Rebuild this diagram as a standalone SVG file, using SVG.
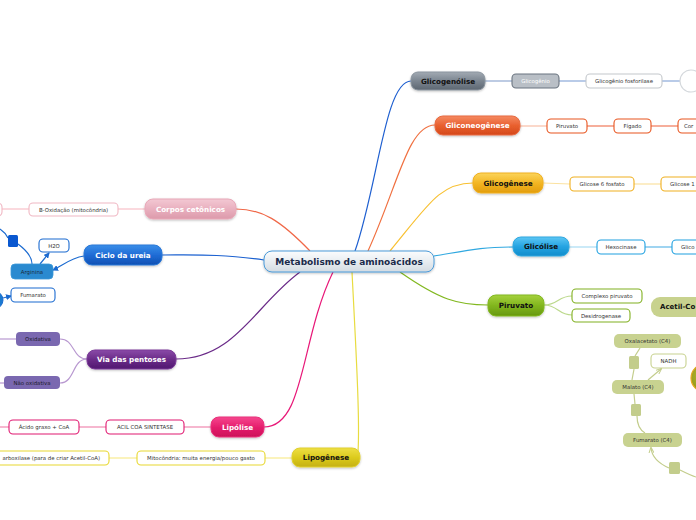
<svg xmlns="http://www.w3.org/2000/svg" width="696" height="520" viewBox="0 0 696 520">
<defs>
<linearGradient id="gGray" x1="0" y1="0" x2="0" y2="1"><stop offset="0" stop-color="#a2aab3"/><stop offset="0.5" stop-color="#7b8590"/><stop offset="1" stop-color="#5d6772"/></linearGradient>
<linearGradient id="gOrange" x1="0" y1="0" x2="0" y2="1"><stop offset="0" stop-color="#f58a62"/><stop offset="0.5" stop-color="#e9602f"/><stop offset="1" stop-color="#d4481a"/></linearGradient>
<linearGradient id="gGold" x1="0" y1="0" x2="0" y2="1"><stop offset="0" stop-color="#fbd45a"/><stop offset="0.5" stop-color="#f3b623"/><stop offset="1" stop-color="#e29d0c"/></linearGradient>
<linearGradient id="gSky" x1="0" y1="0" x2="0" y2="1"><stop offset="0" stop-color="#5cc6f4"/><stop offset="0.5" stop-color="#25a4e2"/><stop offset="1" stop-color="#128ccb"/></linearGradient>
<linearGradient id="gGreen" x1="0" y1="0" x2="0" y2="1"><stop offset="0" stop-color="#a5d13c"/><stop offset="0.5" stop-color="#82b61f"/><stop offset="1" stop-color="#66980e"/></linearGradient>
<linearGradient id="gPink" x1="0" y1="0" x2="0" y2="1"><stop offset="0" stop-color="#f3c8d3"/><stop offset="0.5" stop-color="#e9b0bf"/><stop offset="1" stop-color="#dc9aab"/></linearGradient>
<linearGradient id="gBlue" x1="0" y1="0" x2="0" y2="1"><stop offset="0" stop-color="#3a8ee8"/><stop offset="0.5" stop-color="#1f6cd6"/><stop offset="1" stop-color="#0f50b2"/></linearGradient>
<linearGradient id="gPurple" x1="0" y1="0" x2="0" y2="1"><stop offset="0" stop-color="#8a4aa8"/><stop offset="0.5" stop-color="#6a2c88"/><stop offset="1" stop-color="#511870"/></linearGradient>
<linearGradient id="gMagenta" x1="0" y1="0" x2="0" y2="1"><stop offset="0" stop-color="#f5468e"/><stop offset="0.5" stop-color="#e61f6e"/><stop offset="1" stop-color="#cc0f58"/></linearGradient>
<linearGradient id="gYellow" x1="0" y1="0" x2="0" y2="1"><stop offset="0" stop-color="#eedf44"/><stop offset="0.5" stop-color="#dccb1e"/><stop offset="1" stop-color="#c4b010"/></linearGradient>
<linearGradient id="gCenter" x1="0" y1="0" x2="0" y2="1"><stop offset="0" stop-color="#fbfcfd"/><stop offset="0.5" stop-color="#e8edf1"/><stop offset="1" stop-color="#d3dbe2"/></linearGradient>
<radialGradient id="gOlive" cx="0.4" cy="0.4" r="0.6"><stop offset="0" stop-color="#b8b830"/><stop offset="1" stop-color="#8c9418"/></radialGradient>
<marker id="arB" viewBox="0 0 6 6" refX="5" refY="3" markerWidth="6" markerHeight="6" orient="auto" markerUnits="userSpaceOnUse"><path d="M0,0 L6,3 L0,6 z" fill="#1a6ad0"/></marker>
<marker id="arO" viewBox="0 0 6 6" refX="5" refY="3" markerWidth="6" markerHeight="6" orient="auto" markerUnits="userSpaceOnUse"><path d="M0,0.5 L6,3 L0,5.5" fill="none" stroke="#c3cd8c" stroke-width="1"/></marker>
<filter id="sh" x="-10%" y="-20%" width="120%" height="160%"><feDropShadow dx="0" dy="1" stdDeviation="0.8" flood-color="#000" flood-opacity="0.25"/></filter>
</defs>
<style>
text{font-family:"DejaVu Sans","Verdana",sans-serif;text-anchor:middle;dominant-baseline:central}
.main{font-size:7.2px;font-weight:bold}
.sub{font-size:5.4px;fill:#333}
.st{text-anchor:start}
.w{fill:#fff}
.k{fill:#111}
.child{fill:#fff;stroke-width:1.1}
.c{fill:none;stroke-width:1.2}
</style>

<g id="connectors">
<path class="c" stroke="#1e5fd0" d="M355,251 C378,185 385,81 411,81"/>
<path class="c" stroke="#f07040" d="M368,251 C398,185 408,125 435,125"/>
<path class="c" stroke="#f8c030" d="M390,251 C428,205 440,183 473,183"/>
<path class="c" stroke="#30a8e0" d="M434,256 C470,250 482,247 513,247"/>
<path class="c" stroke="#82b820" d="M400,272 C440,300 458,305 488,305"/>
<path class="c" stroke="#e8dc40" d="M352,272 C356,350 360,420 358,452"/>
<path class="c" stroke="#e81878" d="M333,272 C300,340 305,427 264,427"/>
<path class="c" stroke="#6a2a88" d="M300,272 C255,305 235,359 176,359"/>
<path class="c" stroke="#1a60d0" d="M264,260 C220,254 200,255 162,255"/>
<path class="c" stroke="#f06848" d="M310,251 C280,220 262,209 236,209"/>

<path class="c" stroke="#90a8d0" d="M485,81 L512,81"/>
<path class="c" stroke="#8aa8d8" d="M559,81 L586,81"/>
<path class="c" stroke="#8aa8d8" d="M662,81 L680,81"/>
<path class="c" stroke="#f9bea6" stroke-width="2" d="M520,126 L547,126"/>
<path class="c" stroke="#f07858" d="M587,126 L614,126"/>
<path class="c" stroke="#f07858" d="M651,126 L678,126"/>
<path class="c" stroke="#fbe2a0" stroke-width="2" d="M543,183 L570,184"/>
<path class="c" stroke="#fbe2a0" stroke-width="2" d="M634,184 L661,184"/>
<path class="c" stroke="#a8dcf4" stroke-width="2" d="M569,247 L597,247"/>
<path class="c" stroke="#60b8e8" d="M645,247 L672,247"/>
<path class="c" stroke="#bcd98c" d="M544,305 C558,305 558,296 572,296"/>
<path class="c" stroke="#bcd98c" d="M544,305 C558,305 558,315 572,315"/>

<path class="c" stroke="#c3cd8c" d="M640,348 L635,356"/>
<path class="c" stroke="#c3cd8c" d="M634,369 L632,380"/>
<path class="c" stroke="#c3cd8c" marker-end="url(#arO)" d="M648,380 L661,369"/>
<path class="c" stroke="#c3cd8c" d="M634,394 L635,404"/>
<path class="c" stroke="#c3cd8c" d="M637,416 C637,425 640,430 645,433"/>
<path class="c" stroke="#c3cd8c" marker-end="url(#arO)" d="M669,468 C660,464 652,458 651,448"/>
<path class="c" stroke="#c3cd8c" d="M680,470 C686,473 692,476 696,477"/>

<path class="c" stroke="#f8c0c8" d="M145,209 L118,209"/>
<path class="c" stroke="#f8c0c8" d="M29,209 L2,209"/>
<path class="c" stroke="#1a6ad0" marker-end="url(#arB)" d="M84,256 C70,258 62,266 53,270"/>
<path class="c" stroke="#1a6ad0" marker-end="url(#arB)" d="M40,264 L49,253"/>
<path class="c" stroke="#1a6ad0" d="M18,244 C26,250 32,256 32,264"/>
<path class="c" stroke="#1a6ad0" d="M0,229 C3,231 6,234 8,238"/>
<path class="c" stroke="#1a6ad0" marker-end="url(#arB)" d="M3,298 L11,296"/>
<path class="c" stroke="#b898d0" d="M87,359 C72,359 75,339 60,339"/>
<path class="c" stroke="#b898d0" d="M87,359 C72,359 75,383 60,383"/>
<path class="c" stroke="#b898d0" d="M0,339 L16,339"/>
<path class="c" stroke="#b898d0" d="M0,383 L4,383"/>
<path class="c" stroke="#f088b0" d="M211,427 L184,427"/>
<path class="c" stroke="#f088b0" d="M106,427 L79,427"/>
<path class="c" stroke="#f088b0" d="M9,427 L0,427"/>
<path class="c" stroke="#f8ec90" stroke-width="2" d="M292,458 L265,458"/>
<path class="c" stroke="#f8ec90" stroke-width="2" d="M137,458 L109,458"/>
</g>

<g id="center"><rect x="264" y="251" width="170" height="21" rx="8" fill="url(#gCenter)" stroke="#4a9ad8" stroke-width="1" filter="url(#sh)"/><text x="349" y="261.5" style="font-size:9px;font-weight:bold;fill:#1a2a4a">Metabolismo de aminoácidos</text></g>

<g id="glicogenolise"><rect x="411" y="72" width="74" height="18" rx="7" fill="url(#gGray)" stroke="#8a949e" filter="url(#sh)"/><text class="main k" x="448" y="81">Glicogenólise</text></g>
<g id="glicogenio"><rect x="512" y="74" width="47" height="14" rx="4" fill="#b9bfc6" stroke="#6b7580" stroke-width="1.1"/><text class="sub w" x="535.5" y="81">Glicogênio</text></g>
<g id="fosforilase"><rect class="child" x="586" y="74" width="76" height="14" rx="4" stroke="#c4c8cc"/><text class="sub" x="624" y="81">Glicogênio fosforilase</text></g>
<g id="circulo-cinza"><circle cx="691" cy="81" r="11" fill="#fff" stroke="#d4d8dc" stroke-width="1.1"/></g>

<g id="gliconeogenese"><rect x="435" y="116" width="85" height="19" rx="8" fill="url(#gOrange)" stroke="#e86a40" filter="url(#sh)"/><text class="main w" x="477.5" y="125.5">Gliconeogênese</text></g>
<g id="piruvato-o"><rect class="child" x="547" y="119" width="40" height="14" rx="4" stroke="#e8541e"/><text class="sub" x="567" y="126">Piruvato</text></g>
<g id="figado"><rect class="child" x="614" y="119" width="37" height="14" rx="4" stroke="#e8541e"/><text class="sub" x="632.5" y="126">Fígado</text></g>
<g id="cor"><rect class="child" x="678" y="119" width="40" height="14" rx="4" stroke="#e8541e"/><text class="sub st" x="684" y="126">Cor</text></g>

<g id="glicogenese"><rect x="473" y="173" width="70" height="20" rx="8" fill="url(#gGold)" stroke="#f0b020" filter="url(#sh)"/><text class="main k" x="508" y="183">Glicogênese</text></g>
<g id="glicose6"><rect class="child" x="570" y="177" width="64" height="14" rx="4" stroke="#f0b020"/><text class="sub" x="602" y="184">Glicose 6 fosfato</text></g>
<g id="glicose1"><rect class="child" x="661" y="177" width="64" height="14" rx="4" stroke="#f0b020"/><text class="sub st" x="670" y="184">Glicose 1</text></g>

<g id="glicolise"><rect x="513" y="237" width="56" height="19" rx="8" fill="url(#gSky)" stroke="#30a8e0" filter="url(#sh)"/><text class="main k" x="541" y="246.5">Glicólise</text></g>
<g id="hexocinase"><rect class="child" x="597" y="240" width="48" height="14" rx="4" stroke="#1ea0e0"/><text class="sub" x="621" y="247">Hexocinase</text></g>
<g id="glico"><rect class="child" x="672" y="240" width="56" height="14" rx="4" stroke="#1ea0e0"/><text class="sub st" x="681" y="247">Glico</text></g>

<g id="piruvato"><rect x="488" y="295" width="56" height="21" rx="8" fill="url(#gGreen)" stroke="#82b820" filter="url(#sh)"/><text class="main k" x="516" y="305.5">Piruvato</text></g>
<g id="complexo"><rect class="child" x="572" y="289" width="70" height="14" rx="4" stroke="#80b020"/><text class="sub" x="607" y="296">Complexo piruvato</text></g>
<g id="desidrogenase"><rect class="child" x="572" y="309" width="58" height="13" rx="4" stroke="#80b020"/><text class="sub" x="601" y="315.5">Desidrogenase</text></g>
<g id="acetil"><rect x="651" y="297" width="80" height="20" rx="9" fill="#c8d28e"/><text class="main k st" x="660" y="307" style="font-size:7px">Acetil-Co</text></g>

<g id="oxalacetato"><rect x="614" y="334" width="67" height="14" rx="5" fill="#c8d290"/><text class="sub" x="647.5" y="341">Oxalacetato (C4)</text></g>
<g id="sq1"><rect x="629" y="356" width="10" height="13" rx="1.5" fill="#c3cd8c"/></g>
<g id="nadh"><rect class="child" x="651" y="354" width="35" height="14" rx="4" stroke="#c8d290"/><text class="sub" x="668.5" y="361">NADH</text></g>
<g id="malato"><rect x="612" y="380" width="52" height="14" rx="5" fill="#c8d290"/><text class="sub" x="638" y="387">Malato (C4)</text></g>
<g id="sq2"><rect x="631" y="404" width="10" height="12" rx="1.5" fill="#c3cd8c"/></g>
<g id="fumarato-c4"><rect x="623" y="433" width="59" height="14" rx="5" fill="#c8d290"/><text class="sub" x="652.5" y="440">Fumarato (C4)</text></g>
<g id="sq3"><rect x="669" y="462" width="11" height="12" rx="1.5" fill="#c3cd8c"/></g>
<g id="ciclo-krebs"><circle cx="705" cy="378" r="14" fill="url(#gOlive)" stroke="#e8a820" stroke-width="1.2"/></g>

<g id="corpos"><rect x="145" y="199" width="91" height="20" rx="8" fill="url(#gPink)" stroke="#e8a8b8" filter="url(#sh)"/><text class="main w" x="190.5" y="209">Corpos cetônicos</text></g>
<g id="boxidacao"><rect class="child" x="29" y="203" width="89" height="13" rx="4" stroke="#f0b8c4"/><text class="sub" x="73.5" y="209.5">B-Oxidação (mitocôndria)</text></g>
<g id="pink-left"><rect class="child" x="-40" y="203" width="42" height="13" rx="4" stroke="#f0b8c4"/></g>

<g id="ciclo-ureia"><rect x="84" y="245" width="78" height="20" rx="8" fill="url(#gBlue)" stroke="#2a78d8" filter="url(#sh)"/><text class="main w" x="123" y="255">Ciclo da ureia</text></g>
<g id="h2o"><rect class="child" x="39" y="239" width="30" height="13" rx="4" stroke="#1a6ad0"/><text class="sub" x="54" y="245.5">H2O</text></g>
<g id="sq-blue"><rect x="8" y="235" width="10" height="12" rx="1.5" fill="#0a58d0"/></g>
<g id="arginina"><rect x="11" y="264" width="42" height="15" rx="4" fill="#2a8ad0" stroke="#3a98d8" stroke-width="0.8"/><text class="sub" x="32" y="271.5" style="fill:#1a2a40">Arginina</text></g>
<g id="fumarato"><rect class="child" x="11" y="288" width="44" height="14" rx="4" stroke="#1a6ad0"/><text class="sub" x="33" y="295">Fumarato</text></g>
<g id="circ-blue"><circle cx="-6" cy="300" r="9" fill="#1a7ad0" stroke="#1a6ad0"/></g>

<g id="pentoses"><rect x="87" y="350" width="89" height="19" rx="8" fill="url(#gPurple)" stroke="#7a3a98" filter="url(#sh)"/><text class="main w" x="131.5" y="359.5">Via das pentoses</text></g>
<g id="oxidativa"><rect x="16" y="332" width="44" height="14" rx="4" fill="#7a68b0"/><text class="sub" x="38" y="339" style="fill:#1a1a2a">Oxidativa</text></g>
<g id="nao-oxidativa"><rect x="4" y="376" width="56" height="13" rx="4" fill="#7a68b0"/><text class="sub" x="32" y="382.5" style="fill:#1a1a2a">Não oxidativa</text></g>

<g id="lipolise"><rect x="211" y="417" width="53" height="20" rx="8" fill="url(#gMagenta)" stroke="#e8307a" filter="url(#sh)"/><text class="main w" x="237.5" y="427">Lipólise</text></g>
<g id="acil"><rect class="child" x="106" y="420" width="78" height="14" rx="4" stroke="#e01870"/><text class="sub" x="145" y="427">ACIL COA SINTETASE</text></g>
<g id="acido"><rect class="child" x="9" y="420" width="70" height="14" rx="4" stroke="#e01870"/><text class="sub" x="44" y="427">Ácido graxo + CoA</text></g>

<g id="lipogenese"><rect x="292" y="448" width="68" height="19" rx="8" fill="url(#gYellow)" stroke="#e0d030" filter="url(#sh)"/><text class="main k" x="326" y="457.5">Lipogênese</text></g>
<g id="mitocondria"><rect class="child" x="137" y="451" width="128" height="14" rx="4" stroke="#e8d830"/><text class="sub" x="201" y="458">Mitocôndria: muita energia/pouco gasto</text></g>
<g id="carboxilase"><rect class="child" x="-40" y="451" width="149" height="14" rx="4" stroke="#e8d830"/><text class="sub" x="100" y="458" style="text-anchor:end">arboxilase (para de criar Acetil-CoA)</text></g>
</svg>
